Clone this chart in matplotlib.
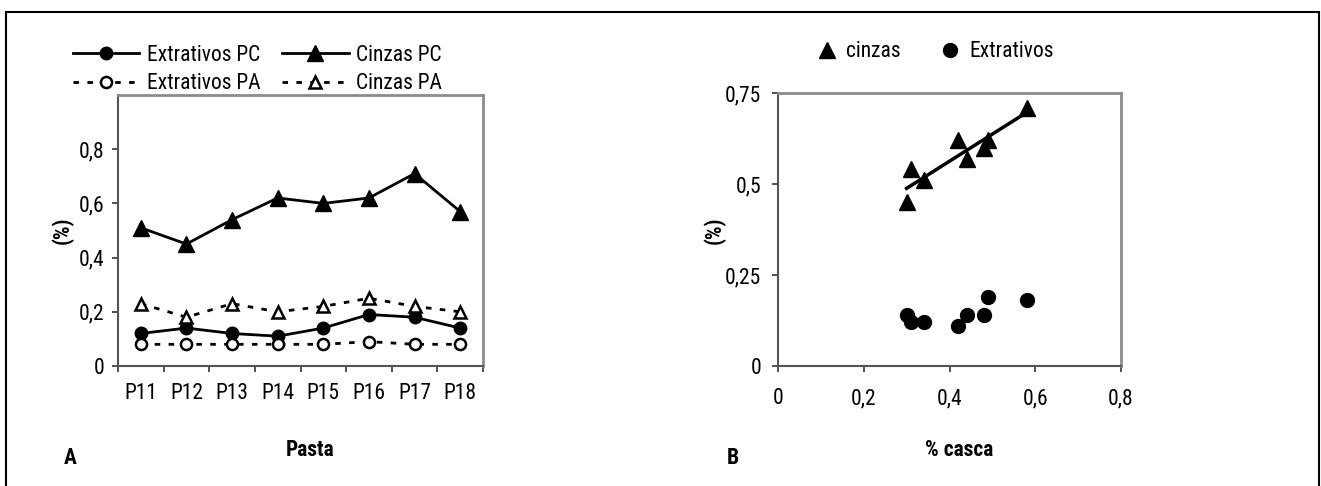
import matplotlib
matplotlib.use("Agg")
import matplotlib.pyplot as plt
from matplotlib.patches import Rectangle
import numpy as np

plt.rcParams['font.family'] = ['Roboto Condensed', 'Liberation Sans', 'DejaVu Sans']

pastas = ['P11', 'P12', 'P13', 'P14', 'P15', 'P16', 'P17', 'P18']
extrativos_pc = [0.12, 0.14, 0.12, 0.11, 0.14, 0.19, 0.18, 0.14]
extrativos_pa = [0.08, 0.08, 0.08, 0.08, 0.08, 0.09, 0.08, 0.08]
cinzas_pc = [0.51, 0.45, 0.54, 0.62, 0.60, 0.62, 0.71, 0.57]
cinzas_pa = [0.23, 0.18, 0.23, 0.20, 0.22, 0.25, 0.22, 0.20]
casca = [0.34, 0.30, 0.31, 0.42, 0.48, 0.49, 0.58, 0.44]

W, H = 1321, 486
fig = plt.figure(figsize=(W / 100, H / 100), dpi=100)

fs = 15.5
grey = '#8c8c8c'
dots = (0, (2, 3))

def style_axes(ax):
    for s in ['top', 'right']:
        ax.spines[s].set_color(grey)
        ax.spines[s].set_linewidth(2)
    for s in ['left', 'bottom']:
        ax.spines[s].set_color('#555555')
        ax.spines[s].set_linewidth(1.5)
    ax.tick_params(direction='out', length=4, width=1.2, color='#333333', labelsize=fs)

# ---- A ----
axA = fig.add_axes([118 / W, 1 - 366 / H, 365 / W, 271 / H])
x = np.arange(len(pastas))
axA.plot(x, extrativos_pc, '-', color='black', lw=2, marker='o', ms=9, label='Extrativos PC')
axA.plot(x, extrativos_pa, linestyle=dots, color='black', lw=2, marker='o', ms=8,
         mfc='white', mew=1.8, label='Extrativos PA')
axA.plot(x, cinzas_pc, '-', color='black', lw=2, marker='^', ms=11, label='Cinzas PC')
axA.plot(x, cinzas_pa, linestyle=dots, color='black', lw=2, marker='^', ms=9,
         mfc='white', mew=1.8, label='Cinzas PA')
axA.set_xlim(-0.5, 7.5)
axA.set_ylim(0, 1.0)
axA.set_yticks([0, 0.2, 0.4, 0.6, 0.8])
axA.set_yticklabels(['0', '0,2', '0,4', '0,6', '0,8'])
axA.set_xticks(np.arange(-0.5, 8, 1))
axA.set_xticklabels([])
axA.set_xticks(x, minor=True)
axA.set_xticklabels(pastas, minor=True)
style_axes(axA)
axA.tick_params(axis='x', which='minor', length=0, pad=12, labelsize=fs)
axA.tick_params(axis='y', pad=6)
axA.legend(ncol=2, loc='lower left', bbox_to_anchor=(-0.16, 0.955), frameon=False,
           fontsize=fs, handlelength=3.1, handletextpad=0.35, columnspacing=1.0,
           labelspacing=0.35, borderaxespad=0.2)

fig.text(63 / W, 1 - 230 / H, '(%)', rotation=90, ha='center', va='center',
         fontsize=fs, fontweight='bold')
fig.text(310 / W, 1 - 450 / H, 'Pasta', ha='center', va='center', fontsize=fs,
         fontweight='bold')
fig.text(70 / W, 1 - 458 / H, 'A', ha='center', va='center', fontsize=fs,
         fontweight='bold')

# ---- B ----
axB = fig.add_axes([778 / W, 1 - 366 / H, 343 / W, 273 / H])
axB.plot(casca, cinzas_pc, linestyle='none', marker='^', ms=11, color='black', label='cinzas')
axB.plot(casca, extrativos_pc, linestyle='none', marker='o', ms=10, color='black', label='Extrativos')
k, b = np.polyfit(casca, cinzas_pc, 1)
xs = np.array([min(casca), max(casca)])
axB.plot(xs, k * xs + b, color='black', lw=2.5)
axB.set_xlim(0, 0.8)
axB.set_ylim(0, 0.75)
axB.set_xticks([0, 0.2, 0.4, 0.6, 0.8])
axB.set_xticklabels(['0', '0,2', '0,4', '0,6', '0,8'])
axB.set_yticks([0, 0.25, 0.5, 0.75])
axB.set_yticklabels(['0', '0,25', '0,5', '0,75'])
style_axes(axB)
axB.tick_params(axis='x', pad=12)
axB.tick_params(axis='y', pad=8)
axB.legend(ncol=2, loc='lower left', bbox_to_anchor=(0.08, 1.065), frameon=False,
           fontsize=fs, handlelength=0.8, handletextpad=0.5, columnspacing=1.9,
           borderaxespad=0.2)

fig.text(715 / W, 1 - 230 / H, '(%)', rotation=90, ha='center', va='center',
         fontsize=fs, fontweight='bold')
fig.text(959 / W, 1 - 450 / H, '% casca', ha='center', va='center', fontsize=fs,
         fontweight='bold')
fig.text(733 / W, 1 - 458 / H, 'B', ha='center', va='center', fontsize=fs,
         fontweight='bold')

# outer frame
fig.patches.append(Rectangle((6 / W, -0.05), (1319 - 6) / W, 1.05 - 12 / H,
                             transform=fig.transFigure, fill=False,
                             edgecolor='black', lw=1.5))

fig.savefig('out.png', dpi=100)
